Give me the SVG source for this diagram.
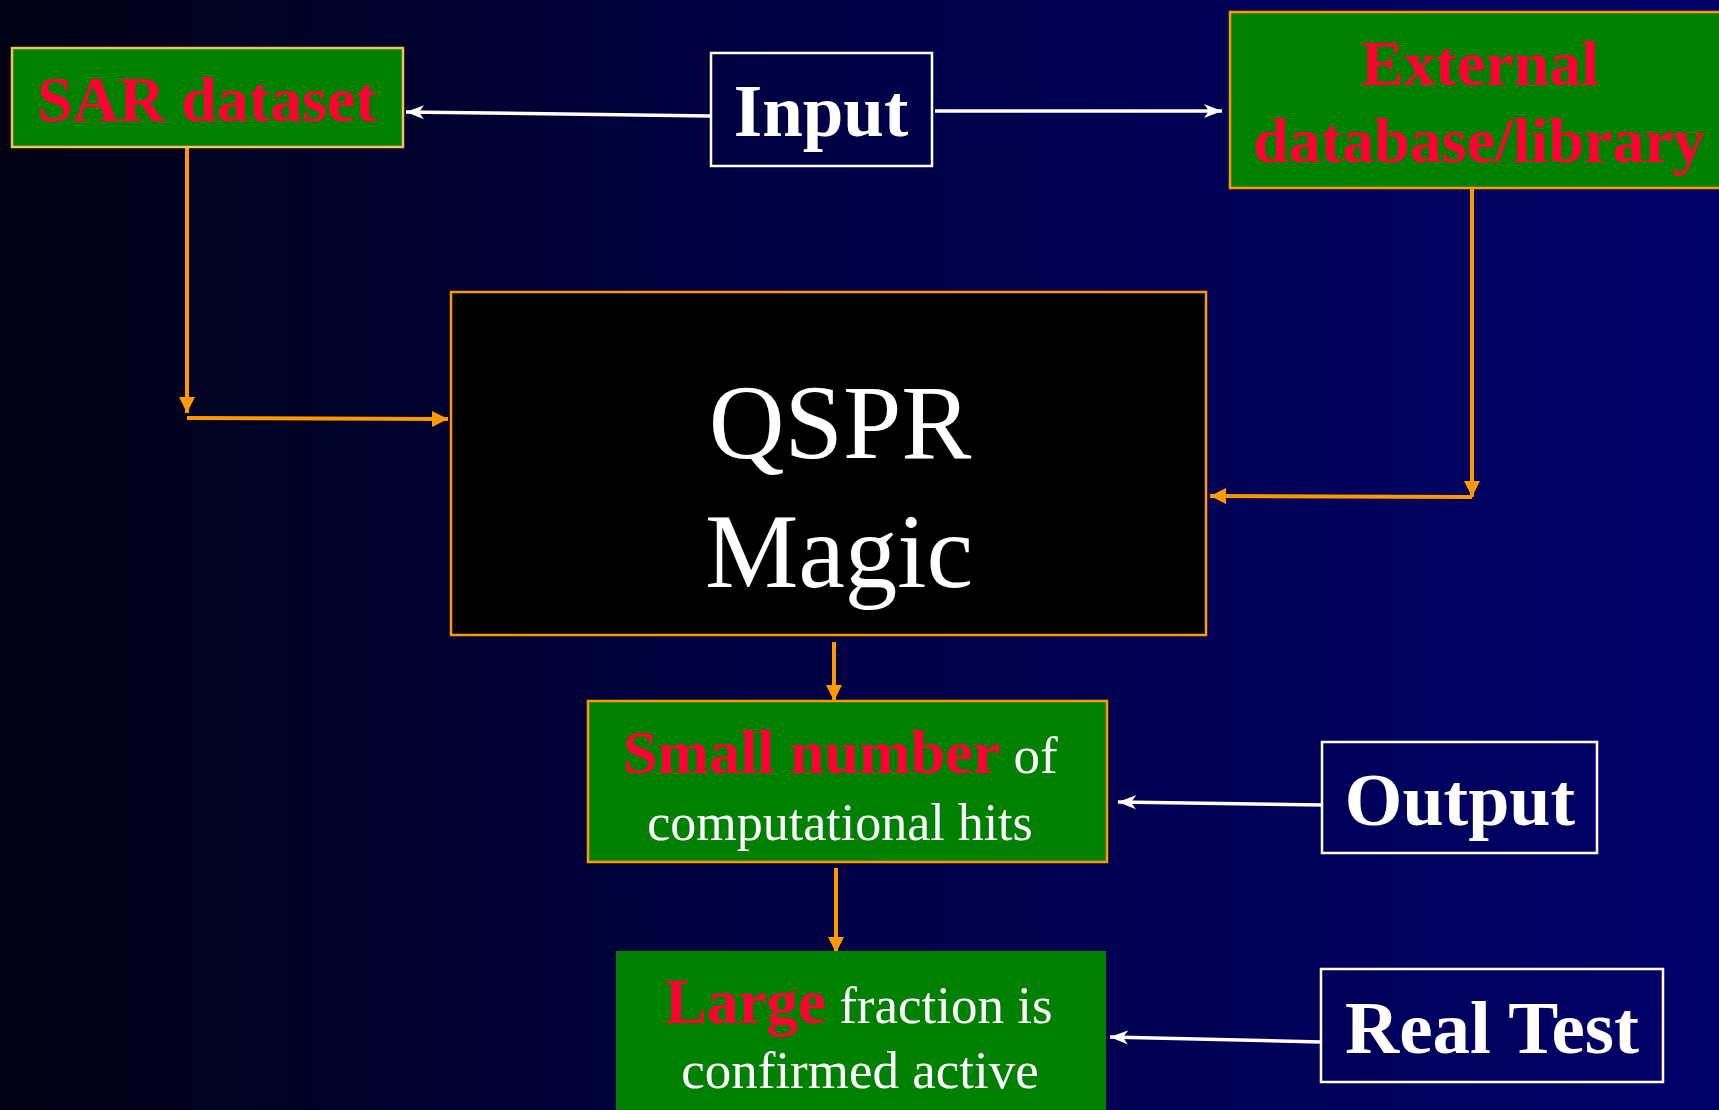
<svg xmlns="http://www.w3.org/2000/svg" width="1719" height="1110" viewBox="0 0 1719 1110">
<style>
.serif{font-family:"Liberation Serif","Times New Roman",serif}
.b{font-weight:bold}
.red{fill:#ff0033}
.wh{fill:#ffffff}
.green{fill:#008000}
.wline{stroke:#ffffff;stroke-width:3.5;fill:none}
.oline{stroke:#ff9900;stroke-width:4;fill:none}
</style>
<defs>
<linearGradient id="bg" x1="0" y1="0" x2="1" y2="0">
<stop offset="0" stop-color="#020214"/>
<stop offset="0.4" stop-color="#000040"/>
<stop offset="1" stop-color="#00006a"/>
</linearGradient>
<marker id="wa" markerUnits="userSpaceOnUse" markerWidth="20" markerHeight="16" viewBox="0 0 20 16" refX="18" refY="8" orient="auto">
<path d="M0,1 L18,8 L0,15 L5,8 Z" fill="#ffffff"/>
</marker>
<marker id="oa" markerUnits="userSpaceOnUse" markerWidth="18" markerHeight="18" viewBox="0 0 18 18" refX="16" refY="9" orient="auto">
<path d="M0,1 L16,9 L0,17 Z" fill="#ff9900"/>
</marker>
</defs>
<rect x="0" y="0" width="1719" height="1110" fill="url(#bg)"/>

<g id="connectors">
<line class="wline" x1="711" y1="116" x2="406" y2="112" marker-end="url(#wa)"/>
<line class="wline" x1="935" y1="111" x2="1222" y2="111" marker-end="url(#wa)"/>
<polyline class="oline" points="187,148 187,413" marker-end="url(#oa)"/>
<line class="oline" x1="187" y1="418" x2="448" y2="419" marker-end="url(#oa)"/>
<polyline class="oline" points="1472,189 1472,497" marker-end="url(#oa)"/>
<line class="oline" x1="1472" y1="497" x2="1210" y2="496" marker-end="url(#oa)"/>
<line class="oline" x1="834" y1="642" x2="834" y2="701" marker-end="url(#oa)"/>
<line class="oline" x1="836" y1="868" x2="836" y2="953" marker-end="url(#oa)"/>
<line class="wline" x1="1323" y1="805" x2="1118" y2="802" marker-end="url(#wa)"/>
<line class="wline" x1="1321" y1="1042" x2="1110" y2="1037" marker-end="url(#wa)"/>
</g>

<g id="sar-dataset">
<rect x="12" y="48" width="391" height="99" class="green" stroke="#f5c060" stroke-width="2.5"/>
<text x="207" y="121" text-anchor="middle" class="serif b red" font-size="64">SAR dataset</text>
</g>

<g id="input">
<rect x="711" y="53" width="221" height="113" fill="none" stroke="#ffffff" stroke-width="2.5"/>
<text x="821" y="136" text-anchor="middle" class="serif b wh" font-size="73">Input</text>
</g>

<g id="external">
<rect x="1230" y="12" width="500" height="176" class="green" stroke="#ff9900" stroke-width="2.5"/>
<text x="1480" y="85" text-anchor="middle" class="serif b red" font-size="64">External</text>
<text x="1479" y="162" text-anchor="middle" class="serif b red" font-size="64">database/library</text>
</g>

<g id="qspr">
<rect x="451" y="292" width="755" height="343" fill="#000000" stroke="#ff9900" stroke-width="2.5"/>
<text x="840" y="458" text-anchor="middle" class="serif wh" font-size="105">QSPR</text>
<text x="839" y="587" text-anchor="middle" class="serif wh" font-size="105">Magic</text>
</g>

<g id="small-number">
<rect x="588" y="701" width="519" height="161" class="green" stroke="#ff9900" stroke-width="2.5"/>
<text x="623" y="773" class="serif"><tspan class="b red" font-size="62">Small number</tspan><tspan class="wh" font-size="53"> of</tspan></text>
<text x="840" y="840" text-anchor="middle" class="serif wh" font-size="52">computational hits</text>
</g>

<g id="output">
<rect x="1322" y="742" width="275" height="111" fill="none" stroke="#ffffff" stroke-width="2.5"/>
<text x="1460" y="825" text-anchor="middle" class="serif b wh" font-size="74">Output</text>
</g>

<g id="large-fraction">
<rect x="616" y="951" width="490" height="170" class="green"/>
<text x="665" y="1023" class="serif"><tspan class="b red" font-size="63">Large</tspan><tspan class="wh" font-size="53"> fraction is</tspan></text>
<text x="860" y="1088" text-anchor="middle" class="serif wh" font-size="53">confirmed active</text>
</g>

<g id="real-test">
<rect x="1321" y="969" width="342" height="113" fill="none" stroke="#ffffff" stroke-width="2.5"/>
<text x="1492" y="1053" text-anchor="middle" class="serif b wh" font-size="75">Real Test</text>
</g>
</svg>
